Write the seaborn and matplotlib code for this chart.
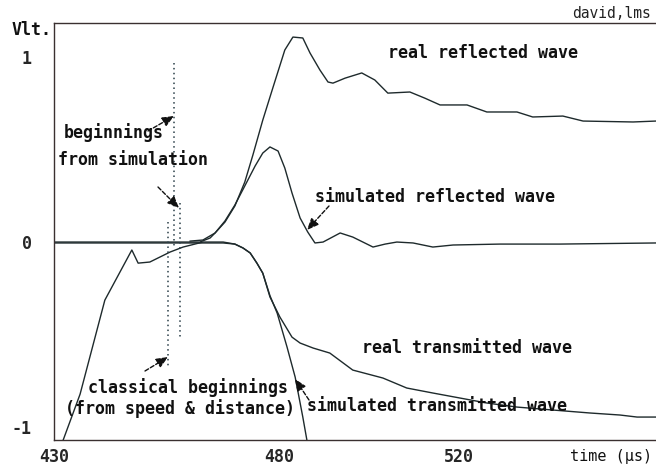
import matplotlib
matplotlib.use("Agg")
import matplotlib.pyplot as plt
import seaborn as sns
import pandas as pd
import numpy as np

# ---------------- data (time in µs, amplitude in Vlt.) ----------------
real_refl_t = [460.2, 463.1, 465.8, 468.0, 470.2, 472.4, 474.2, 476.4, 478.7, 481.3, 483.1, 485.3,
               486.9, 489.1, 490.9, 492.0, 494.7, 498.4, 501.3, 504.2, 509.1, 512.4, 515.8, 521.8,
               526.2, 532.9, 536.4, 543.1, 547.6, 558.7, 563.8]
real_refl_v = [0.005, 0.011, 0.049, 0.108, 0.195, 0.324, 0.470, 0.659, 0.838, 1.038, 1.108, 1.103,
               1.022, 0.930, 0.865, 0.859, 0.886, 0.914, 0.876, 0.805, 0.811, 0.778, 0.741, 0.741,
               0.703, 0.703, 0.676, 0.681, 0.654, 0.649, 0.654]

sim_refl_t = [430.0, 462.4, 464.7, 465.8, 468.0, 470.2, 472.4, 474.7, 476.4, 478.0, 479.8, 481.3,
              482.9, 484.7, 486.4, 488.0, 489.8, 493.6, 496.4, 500.9, 503.6, 506.2, 509.8, 514.2,
              518.7, 529.1, 542.4, 563.8]
sim_refl_v = [0.0, 0.0, 0.022, 0.049, 0.114, 0.200, 0.303, 0.411, 0.481, 0.514, 0.492, 0.400,
              0.265, 0.130, 0.054, -0.005, 0.0, 0.049, 0.027, -0.027, -0.011, 0.0, -0.005, -0.027,
              -0.016, -0.011, -0.011, -0.005]

real_trans_t = [431.8, 435.8, 441.3, 447.3, 448.7, 451.3, 455.8, 458.7, 463.1, 467.6, 470.2, 472.0,
                473.6, 475.1, 476.4, 478.0, 480.2, 482.9, 484.7, 487.6, 491.3, 496.4, 503.1, 508.4,
                514.2, 520.2, 526.2, 532.9, 540.9, 549.1, 555.8, 559.6, 563.8]
real_trans_v = [-1.086, -0.822, -0.314, -0.043, -0.114, -0.108, -0.054, -0.027, 0.0, 0.0, -0.011, -0.032,
                -0.059, -0.114, -0.168, -0.297, -0.405, -0.514, -0.546, -0.573, -0.600, -0.692, -0.735, -0.789,
                -0.816, -0.843, -0.870, -0.892, -0.908, -0.924, -0.935, -0.946, -0.946]

sim_trans_t = [430.0, 462.4, 467.6, 470.2, 472.0, 473.6, 475.1, 476.4, 478.0, 479.6, 481.8, 483.6,
               485.3, 486.4]
sim_trans_v = [-0.005, -0.005, -0.005, -0.011, -0.032, -0.059, -0.114, -0.168, -0.290, -0.384, -0.568, -0.730,
               -0.946, -1.097]

# beginnings markers (time, v_start, v_end)
begin_sim_refl = (456.7, 0.968, -0.027)
begin_sim_trans = (458.0, 0.211, -0.519)
begin_classical = (455.3, 0.108, -0.681)

x_ticklabels = ["430", "480", "520"]
x_major = [430, 480, 520]
y_major = [-1, 0, 1]
y_ticklabels = ["-1", "0", "1"]

# ---------------- build frame ----------------
frames = []
for name, t, v in [("real reflected", real_refl_t, real_refl_v),
                   ("simulated reflected", sim_refl_t, sim_refl_v),
                   ("real transmitted", real_trans_t, real_trans_v),
                   ("simulated transmitted", sim_trans_t, sim_trans_v)]:
    frames.append(pd.DataFrame({"t": t, "v": v, "series": name}))
df = pd.concat(frames, ignore_index=True)

sns.set_style("white")
plt.rcParams['font.family'] = ['DejaVu Sans Mono', 'DejaVu Sans']

W, H = 656, 475
fig = plt.figure(figsize=(W / 100, H / 100), dpi=100)
ax = fig.add_axes([54 / W, (H - 440) / H, (W - 54) / W, (440 - 23) / H])

line_col = "#1e2a2c"
sns.lineplot(data=df, x="t", y="v", hue="series", units="series", estimator=None, sort=False,
             palette={k: line_col for k in df["series"].unique()}, linewidth=1.0,
             legend=False, ax=ax)

for (tt, v0, v1) in [begin_sim_refl, begin_sim_trans, begin_classical]:
    ax.plot([tt, tt], [v0, v1], color="#2a3e48", linestyle=(0, (1, 2.2)), linewidth=1.1)

ax.set_xlim(430, 563.8)
ax.set_ylim(-1.07, 1.184)

ax.spines["right"].set_visible(False)
for s in ["left", "top", "bottom"]:
    ax.spines[s].set_color("#3a3030")
    ax.spines[s].set_linewidth(1.0)

ax.set_xticks(x_major)
ax.set_xticklabels(x_ticklabels)
ax.set_xticks(np.arange(430, 561, 10), minor=True)
ax.set_yticks(y_major)
ax.set_yticklabels(y_ticklabels)
ax.set_yticks(np.arange(-1.0, 1.15, 0.1), minor=True)
ax.tick_params(axis="x", which="both", direction="in", length=10, width=1.0, color="#222",
               labelsize=12, pad=6)
ax.tick_params(axis="y", which="major", direction="in", length=9, width=1.2, color="#222",
               labelsize=12, pad=16)
ax.tick_params(axis="y", which="minor", direction="in", length=3, width=1.0, color="#222")
for lab in ax.get_xticklabels() + ax.get_yticklabels():
    lab.set_fontweight("bold")
ax.set_xlabel("")
ax.set_ylabel("")


def fp(x, y):
    return (x / W, 1 - y / H)


txt_kw = dict(fontsize=12, color="#111", va="center", ha="left", fontweight="bold")
fig.text(*fp(12, 30), "Vlt.", **txt_kw)
fig.text(*fp(651, 13), "david,lms", fontsize=10.5, color="#222", va="center", ha="right")
fig.text(*fp(652, 457), "time (µs)", fontsize=11, color="#111", va="center", ha="right")
fig.text(*fp(388, 53), "real reflected wave", **txt_kw)
fig.text(*fp(64, 133), "beginnings", **txt_kw)
fig.text(*fp(58, 160), "from simulation", **txt_kw)
fig.text(*fp(315, 197), "simulated reflected wave", **txt_kw)
fig.text(*fp(362, 348), "real transmitted wave", **txt_kw)
fig.text(*fp(307, 406), "simulated transmitted wave", **txt_kw)
fig.text(*fp(88, 388), "classical beginnings", **txt_kw)
fig.text(*fp(65, 409), "(from speed & distance)", **txt_kw)

arrow_kw = dict(arrowstyle="-|>,head_length=0.7,head_width=0.3", color="#111", lw=1.0,
                linestyle=(0, (3, 1.5)), shrinkA=0, shrinkB=0)
for (x0, y0), (x1, y1) in [((148, 131), (174, 116)),
                           ((158, 187), (179, 208)),
                           ((145, 371), (168, 357)),
                           ((329, 206), (307, 230)),
                           ((309, 400), (295, 379))]:
    ax.annotate("", xy=(x1, H - y1), xycoords="figure pixels",
                xytext=(x0, H - y0), textcoords="figure pixels",
                arrowprops=arrow_kw)

fig.savefig("out.png", dpi=100)
